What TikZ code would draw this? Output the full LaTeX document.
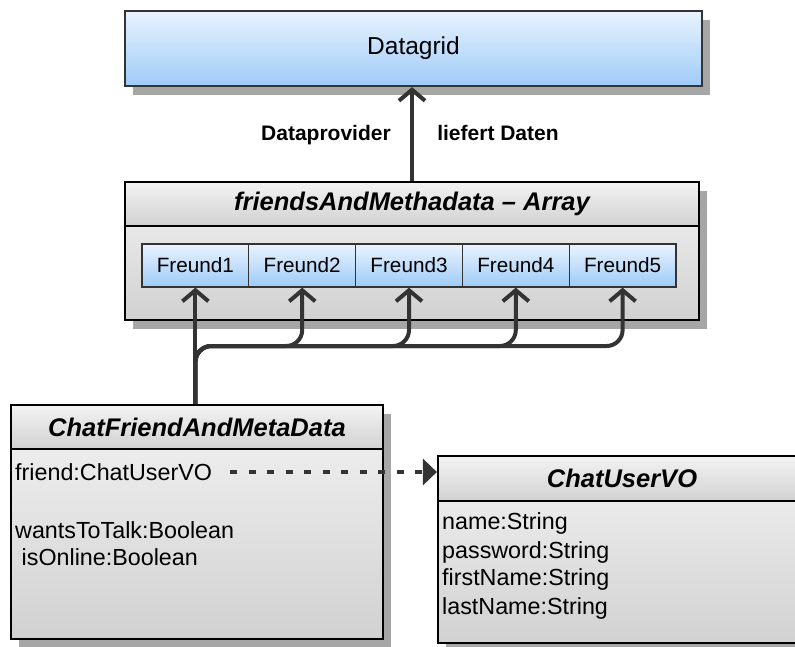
\documentclass[tikz,border=0pt]{standalone}
\usepackage{fontspec}
\setmainfont{Liberation Sans}
\usetikzlibrary{arrows.meta,shadows,calc}

\definecolor{bluetop}{HTML}{E9F3FE}
\definecolor{bluebot}{HTML}{9ECBF8}
\definecolor{graytop}{HTML}{F3F3F3}
\definecolor{graybot}{HTML}{D1D1D1}
\definecolor{shadowgray}{HTML}{A6A6A6}
\definecolor{inkgray}{HTML}{333333}

\tikzset{
  shadowed/.style={drop shadow={shadow xshift=8pt,shadow yshift=-9pt,fill=shadowgray,opacity=1}},
  bluebox/.style={rectangle,inner sep=0pt,draw=inkgray,line width=2.2pt,
    top color=bluetop,bottom color=bluebot},
  graybox/.style={rectangle,inner sep=0pt,draw=black,line width=2.2pt,
    top color=graytop,bottom color=graybot},
  cell/.style={rectangle,inner sep=0pt,draw=inkgray,line width=1.3pt,
    top color=bluetop,bottom color=bluebot,minimum width=106.8pt,minimum height=43pt,
    font=\fontsize{20.7}{24}\selectfont},
  headtext/.style={font=\fontsize{25.5}{30}\selectfont\bfseries\itshape},
  attr/.style={anchor=west,inner sep=0pt,font=\fontsize{23.3}{28}\selectfont},
  lbl/.style={inner sep=0pt,font=\fontsize{21}{25}\selectfont\bfseries},
  conn/.style={draw=inkgray,line width=4pt,
    -{Straight Barb[length=11pt,width=26pt]}},
  dashconn/.style={draw=inkgray,line width=4pt,dash pattern=on 7pt off 11.5pt,
    -{Triangle[length=14pt,width=26pt,fill=inkgray]}},
}

\begin{document}
\begin{tikzpicture}[x=1pt,y=-1pt]
\useasboundingbox (0,0) rectangle (795,646);
\clip (0,0) rectangle (795,646);
\fill[white] (0,0) rectangle (795,646);

% Datagrid
\node[bluebox,shadowed,minimum width=577pt,minimum height=75pt,
      font=\fontsize{24.5}{29}\selectfont] (dg) at (413.5,48.5) {Datagrid};

% Array container with its cells
\node[graybox,shadowed,minimum width=574pt,minimum height=138pt] (arr) at (412,251) {};
\node[graybox,minimum width=574pt,minimum height=44pt,headtext] (arrh) at (412,204)
  {friendsAndMethadata – Array};
\foreach \i in {1,...,5}
  \node[cell] (f\i) at ({142+106.8*(\i-0.5)},265.5) {Freund\i};

% ChatFriendAndMetaData class
\node[graybox,shadowed,minimum width=372pt,minimum height=234pt] (cf) at (197,522) {};
\node[graybox,minimum width=372pt,minimum height=44pt,headtext] (cfh) at (197,427)
  {ChatFriendAndMetaData};
\node[attr] (fr) at (15,472) {friend:ChatUserVO};
\node[attr] (wt) at (15,530) {wantsToTalk:Boolean};
\node[attr] (on) at (21.5,557) {isOnline:Boolean};

% ChatUserVO class
\node[graybox,shadowed,minimum width=368pt,minimum height=187pt] (cu) at (622,549.5) {};
\node[graybox,minimum width=368pt,minimum height=45pt,headtext] (cuh) at (622,478.5)
  {ChatUserVO};
\node[attr] (nm) at (442,523) {name:String};
\node[attr] (pw) at (442,552) {password:String};
\node[attr] (fn) at (442,579) {firstName:String};
\node[attr] (ln) at (442,608) {lastName:String};

% data flow into the grid
\draw[conn] (arr.north) -- (arr.north |- dg.south);
\node[lbl] (dp) at (326,135) {Dataprovider};
\node[lbl] (ld) at (498,133) {liefert Daten};

% each array entry holds a ChatFriendAndMetaData
\coordinate (bus) at (0,346);
\draw[conn] (cf.north -| f1.south) -- (f1.south);
\foreach \i in {2,...,5}
  \draw[conn,rounded corners=16pt] (cf.north -| f1.south) -- (f1.south |- bus)
    -- (f\i.south |- bus) -- (f\i.south);

% reference to ChatUserVO
\draw[dashconn] ($(fr.east)+(18,0)$) -- (fr.east -| cu.west);
\end{tikzpicture}
\end{document}
